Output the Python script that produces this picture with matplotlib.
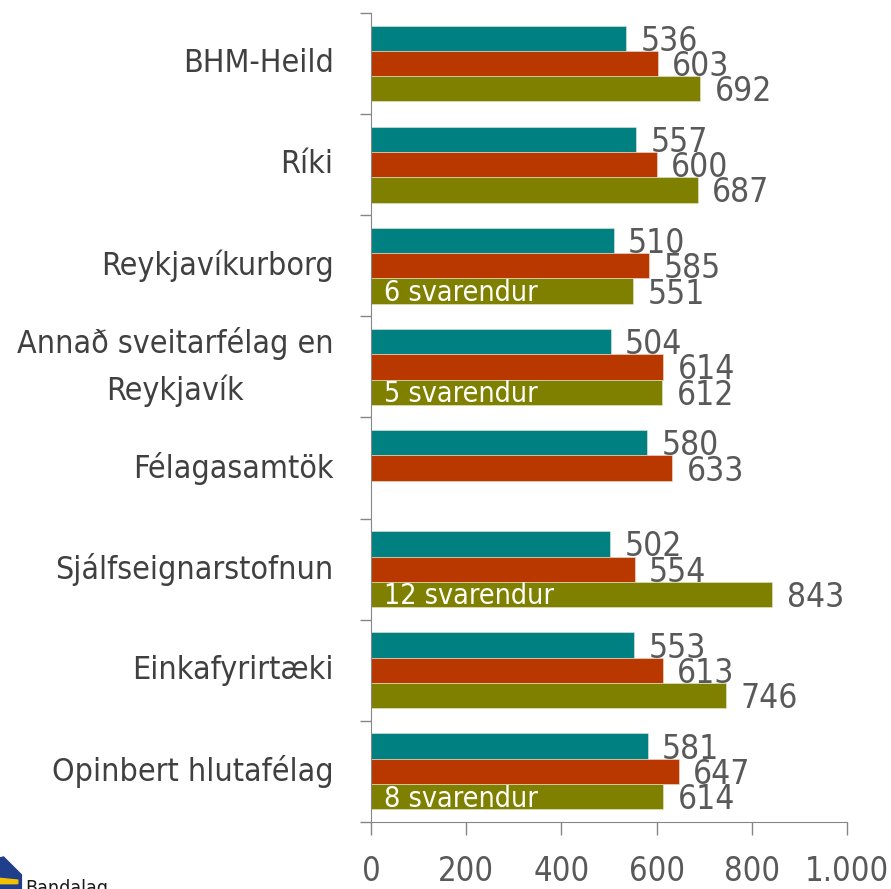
import numpy as np
import matplotlib.pyplot as plt
from matplotlib.patches import Polygon

categories = ['BHM-Heild', 'Ríki', 'Reykjavíkurborg', 'Annað sveitarfélag en\nReykjavík',
              'Félagasamtök', 'Sjálfseignarstofnun', 'Einkafyrirtæki', 'Opinbert hlutafélag']
teal_vals = [536, 557, 510, 504, 580, 502, 553, 581]
red_vals = [603, 600, 585, 614, 633, 554, 613, 647]
olive_vals = [692, 687, 551, 612, np.nan, 843, 746, 614]
notes = ['', '', '6 svarendur', '5 svarendur', '', '12 svarendur', '', '8 svarendur']
xticks = [0, 200, 400, 600, 800, 1000]
xticklabels = ['0', '200', '400', '600', '800', '1.000']

plt.rcParams['font.family'] = ['DejaVu Sans']
plt.rcParams['font.stretch'] = 'condensed'
txt_col = '#595959'
axis_col = '#868686'
colors = ['#008080', '#B83800', '#808000']

fig = plt.figure(figsize=(8.91, 8.89), dpi=100)
ax = fig.add_axes([0.4164, 0.0754, 0.5342, 0.91])

y = np.arange(len(categories))
h = 0.25
series = [teal_vals, red_vals, olive_vals]
for i, vals in enumerate(series):
    pos = y + (i - 1) * h
    for p, v in zip(pos, vals):
        if np.isnan(v):
            continue
        ax.barh(p, v, height=h, color=colors[i], edgecolor='#e8e8d8', linewidth=0.4)
        ax.text(v + 30, p + 0.03, str(int(v)), va='center', ha='left',
                fontsize=24, color=txt_col)

for yi, n in zip(y, notes):
    if n:
        ax.text(27, yi + h + 0.02, n, va='center', ha='left', fontsize=20.5, color='white')

ax.set_ylim(7.5, -0.5)
ax.set_xlim(0, 1000)
ax.set_yticks(y)
ax.set_yticklabels(categories, fontsize=23, color='#404040',
                   linespacing=1.6, multialignment='center')
for lab in ax.get_yticklabels():
    lab.set_va('center')
ax.tick_params(axis='y', which='major', length=0, pad=27)
ax.set_yticks(np.arange(-0.5, 8, 1), minor=True)
ax.tick_params(axis='y', which='minor', length=8, color=axis_col, width=1)
ax.set_xticks(xticks)
ax.set_xticklabels(xticklabels, fontsize=23.5, color=txt_col)
ax.tick_params(axis='x', length=9, color=axis_col, width=1, pad=15)

for s in ['top', 'right']:
    ax.spines[s].set_visible(False)
for s in ['left', 'bottom']:
    ax.spines[s].set_color(axis_col)

# logo fragment in the corner
fig.patches.append(Polygon([[0, 0], [0, 0.035], [0.004, 0.036], [0.024, 0.016], [0.024, 0]],
                           closed=True, transform=fig.transFigure, color='#1f3f8a'))
fig.patches.append(Polygon([[0, 0.006], [0.02, 0.006], [0.02, 0.010], [0, 0.012]],
                           closed=True, transform=fig.transFigure, color='#f2c200'))
fig.text(0.028, -0.010, 'Bandalag', fontsize=14, color='#1a1a1a', ha='left', va='bottom')

fig.savefig('out.png', dpi=100)
